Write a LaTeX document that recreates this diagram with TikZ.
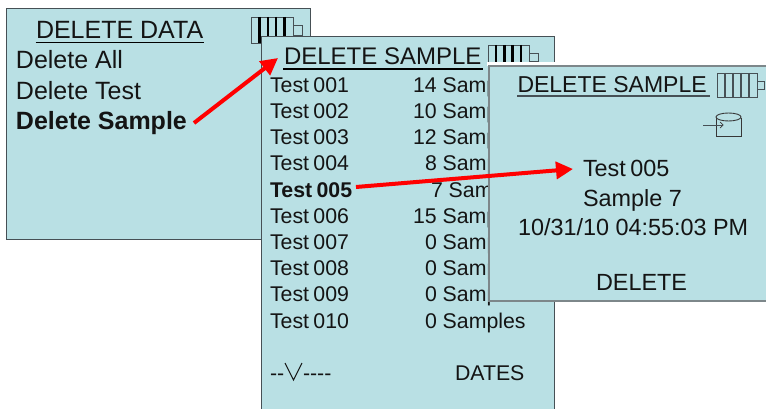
\documentclass[tikz,border=0pt]{standalone}
\usepackage{fontspec}
\setmainfont{Liberation Sans}
\usetikzlibrary{arrows.meta}
\definecolor{lcd}{RGB}{185,224,228}
\definecolor{frameg}{RGB}{70,80,85}
\definecolor{frameh}{RGB}{125,135,138}
\definecolor{inkc}{RGB}{20,20,20}
\newcommand{\tsp}{\hspace{4.4pt}}
\tikzset{
  x=1pt,y=-1pt,
  panel/.style={draw=frameg,fill=lcd,line width=1pt},
  softpanel/.style={draw=frameh,fill=lcd,line width=1.6pt},
  lbl/.style={anchor=base west,inner sep=0pt,outer sep=0pt,text=inkc},
  big/.style={lbl,font=\fontsize{25}{25}\selectfont},
  mid/.style={lbl,font=\fontsize{21.3}{21.3}\selectfont},
  thirdl/.style={lbl,font=\fontsize{23.4}{23.4}\selectfont},
  redarrow/.style={draw=red,line width=4pt,-{Triangle[length=17pt,width=17pt]}},
  batt/.style={draw=frameg,line width=.8pt},
  rung/.style={draw=black,line width=2.4pt},
  softrung/.style={draw=frameg,line width=1.2pt},
  uline/.style={draw=black,line width=1.8pt},
}
\newcommand{\battery}[6]{% x y w h style nub
  \draw[batt] (#1,#2) rectangle ++(#3,#4);
  \foreach \k in {1,2,3,4}{\draw[#5] ({#1+\k*#3/5},#2) -- ++(0,#4);}
  \draw[batt] ({#1+#3},{#2+#4*.33}) rectangle ++(#6,{#4*.37});
}
\begin{document}
\begin{tikzpicture}
\useasboundingbox (0,0) rectangle (766,409);
% panel 1
\path[panel] (6,9) rectangle (310,239);
\node[big] (t1) at (36,39) {DELETE DATA};
\draw[uline] (35.5,42.5) -- (204,42.5);
\battery{251}{17}{42}{26}{rung}{9}
\node[big] (a1) at (16,69) {Delete All};
\node[big] (a2) at (16,100) {Delete Test};
\node[big,font=\fontsize{25}{25}\selectfont\bfseries] (a3) at (16,130) {Delete Sample};
% panel 2
\path[panel] (261,37) rectangle (554.5,420);
\node[lbl,font=\fontsize{24}{24}\selectfont] (t2) at (284,65) {DELETE SAMPLE};
\draw[uline] (283,69) -- (483,69);
\battery{488}{45}{41}{24}{rung}{9}
\foreach \n/\y/\c/\cx/\s in {
  001/93/14 Samples/413/b1, 002/119/10 Samples/413/b2, 003/145/12 Samples/413/b3,
  004/171/8 Samples/425/b4, 006/223/15 Samples/413/b6, 007/249/0 Samples/425/b7,
  008/275/0 Samples/425/b8, 009/301/0 Samples/425/b9, 010/328/0 Samples/425/b10}{
  \node[mid] (tl\s) at (270,\y) {Test\tsp\n};
  \node[mid] (tr\s) at (\cx,\y) {\c};
}
\node[mid,font=\fontsize{21.3}{21.3}\selectfont\bfseries] (t5) at (270,197) {Test\tsp 005};
\node[mid] (s5) at (431,197) {7 Samples};
\node[mid] (dash1) at (270,380) {-{}-};
\node[mid] (dash2) at (303,380) {-{}-{}-{}-};
\coordinate (va) at (285,363);
\coordinate (vb) at (293.5,380);
\coordinate (vc) at (302,363);
\draw[draw=inkc,line width=1pt] (va) -- (vb) -- (vc);
\node[mid] (dates) at (455,380) {DATES};
% panel 3
\path[fill=white] (487,62) rectangle (766,66);
\path[softpanel] (489,66) rectangle (772,301);
\node[lbl,font=\fontsize{23}{23}\selectfont] (t3) at (517.5,93) {DELETE SAMPLE};
\draw[draw=frameg,line width=1.9pt] (517,96) -- (710,96);
\battery{717}{73}{40}{24}{softrung}{7}
% storage icon
\draw[draw=inkc!85,line width=.9pt] (716,118) -- (716,136) -- (741,136) -- (741,118);
\draw[draw=inkc!85,line width=.9pt] (728.5,117) ellipse (12.5 and 4);
\draw[draw=frameg,line width=.7pt] (703,125) -- (722,125);
\draw[draw=inkc!85,line width=.7pt] (720,122) -- (723,125) -- (720,128);
\node[thirdl] (c1) at (583,177) {Test\tsp 005};
\node[thirdl] (c2) at (583,206) {Sample 7};
\node[thirdl] (c3) at (518,235) {10/31/10 04:55:03 PM};
\node[thirdl] (c4) at (596,290) {DELETE};
% arrows
\coordinate (ar1s) at (194,123);
\coordinate (ar1e) at (278,58);
\coordinate (ar2s) at (356,187);
\coordinate (ar2e) at (573,169);
\draw[redarrow] (ar1s) -- (ar1e);
\draw[redarrow] (ar2s) -- (ar2e);
\end{tikzpicture}
\end{document}
